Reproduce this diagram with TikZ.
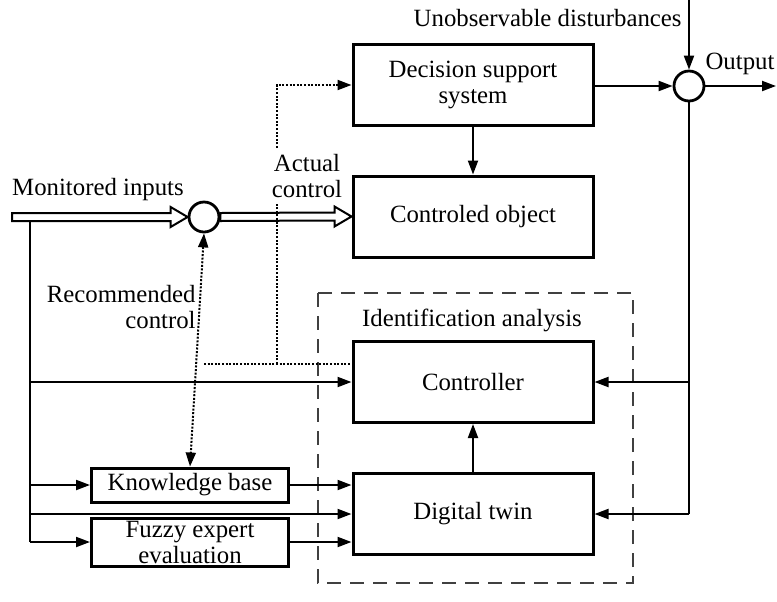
\documentclass[tikz,border=0pt]{standalone}
\usepackage{fontspec}
\setmainfont{Liberation Serif}
\usetikzlibrary{arrows.meta, positioning, calc}

\tikzset{
  block/.style={draw, line width=1.5pt, minimum width=120pt, minimum height=40.5pt, align=center, inner sep=2pt},
  smallblock/.style={draw, line width=1.5pt, minimum width=98.5pt, align=center, inner sep=1pt},
  sum/.style={draw, circle, line width=1.4pt, minimum size=15pt, inner sep=0pt},
  conn/.style={line width=1pt, -{Triangle[length=7pt,width=5pt]}},
  link/.style={line width=1pt},
  hint/.style={line width=1pt, dash pattern=on 1pt off 0.8pt},
  frame/.style={line width=1.1pt, dash pattern=on 7pt off 4.5pt, black!75},
  hollow/.style={line width=1pt, fill=white},
  lbl/.style={align=center, inner sep=0pt},
}

% hollow double arrow between two points
\newcommand{\hollowarrow}[2]{%
  \draw[hollow] ($(#1)+(0,-4)$) -- ($(#2)+(-17,-4)$) -- ($(#2)+(-17,-10)$) -- (#2)
    -- ($(#2)+(-17,10)$) -- ($(#2)+(-17,4)$) -- ($(#1)+(0,4)$) -- cycle;}

\begin{document}
\begin{tikzpicture}[x=0.5pt, y=-0.5pt, font=\fontsize{12.4}{13}\selectfont]
    \useasboundingbox (0,0) rectangle (777,601);

    % identification frame
    \draw[frame] (318,293) rectangle (633,583);

    \node[block]			(dss)	at (473,85)		{Decision support\\system};
    \node[block]			(obj)	at (473,216.5)	{Controled object};
    \node[block]			(ctrl)	at (473,382)	{Controller};
    \node[block]			(twin)	at (473,514)	{Digital twin};
    \node[smallblock, minimum height=17pt]	(kb)	at (190,485)	{Knowledge base};
    \node[smallblock, minimum height=24pt]	(fuzzy)	at (190,542)	{Fuzzy expert\\evaluation};
    \node[sum]				(s1)	at (204,217)	{};
    \node[sum]				(s2)	at (689,86)		{};

    \coordinate (in)	at (12,217);
    \coordinate (tap)	at (30,221);
    \coordinate (bus)	at (30,542);
    \coordinate (dist)	at (689,0);
    \coordinate (out)	at (776,86);
    \coordinate (act)	at (277,364);
    \coordinate (rec)	at (204,364);

    % monitored inputs
    \hollowarrow{in}{s1.west}
    \hollowarrow{s1.east}{obj.west}

    \draw[link] (tap) -- (bus);
    \draw[conn] (tap |- ctrl.west) -- (ctrl.west);
    \draw[conn] (tap |- kb.west) -- (kb.west);
    \draw[conn] (tap |- twin.west) -- (twin.west);
    \draw[conn] (bus) -- (fuzzy.west);
    \draw[conn] (kb.east) -- (kb.east -| twin.west);
    \draw[conn] (fuzzy.east) -- (fuzzy.east -| twin.west);
    \draw[conn] (twin.north) -- (ctrl.south);
    \draw[conn] (dss.south) -- (obj.north);

    % output loop
    \draw[conn] (s2.west -| dss.east) -- (s2.west);
    \draw[conn] (dist) -- (s2.north);
    \draw[conn] (s2.east) -- (out);
    \draw[link] (s2.south) -- (s2 |- twin.east);
    \draw[conn] (s2 |- ctrl.east) -- (ctrl.east);
    \draw[conn] (s2 |- twin.east) -- (twin.east);

    % control signals
    \draw[hint, {Triangle[length=7pt,width=5pt]}-{Triangle[length=7pt,width=5pt]}] (s1.south) -- (kb.north);
    \draw[hint] (rec) -- (rec -| ctrl.west);
    \draw[hint, -{Triangle[length=7pt,width=5pt]}] (act) -- (act |- dss.west) -- (dss.west);

    \node[lbl, anchor=east]			(distlbl)	at (682,18)		{Unobservable disturbances};
    \node[lbl]						(outlbl)	at (740,64)		{Output};
    \node[lbl]						(inlbl)		at (98,190)		{Monitored inputs};
    \node[lbl, fill=white, inner sep=2pt]	(actlbl)	at (307,176)	{Actual\\control};
    \node[lbl, align=right, anchor=east]	(reclbl)	at (196,307)	{Recommended\\control};
    \node[lbl]						(idlbl)		at (472,320)	{Identification analysis};
\end{tikzpicture}
\end{document}
